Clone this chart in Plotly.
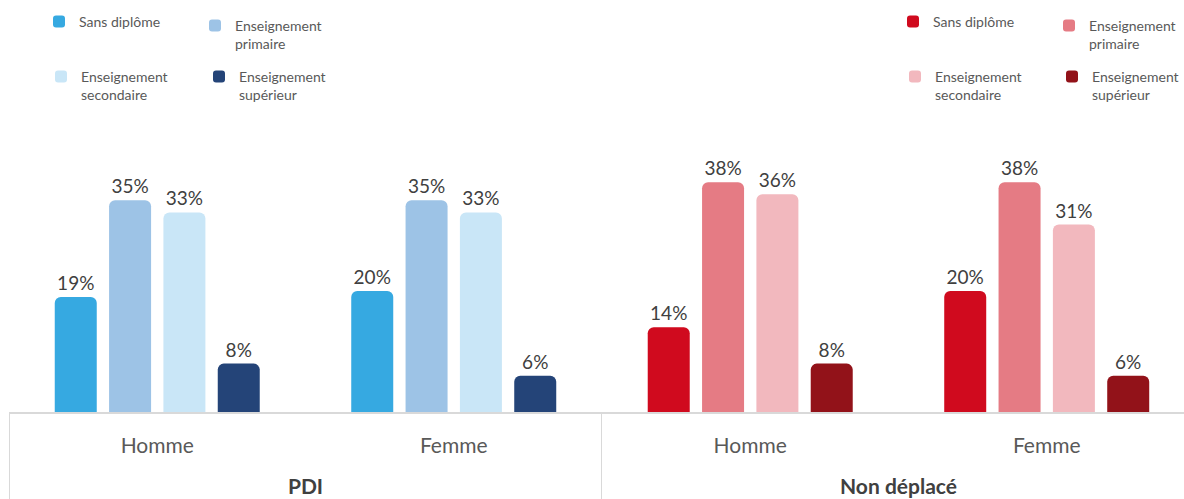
import plotly.graph_objects as go

# data
groups = ["PDI", "Non déplacé"]
sexes = ["Homme", "Femme"]
levels = ["Sans diplôme", "Enseignement<br>primaire",
          "Enseignement<br>secondaire", "Enseignement<br>supérieur"]

pdi_values = {
    "Sans diplôme": [19, 20],
    "Enseignement<br>primaire": [35, 35],
    "Enseignement<br>secondaire": [33, 33],
    "Enseignement<br>supérieur": [8, 6],
}
nd_values = {
    "Sans diplôme": [14, 20],
    "Enseignement<br>primaire": [38, 38],
    "Enseignement<br>secondaire": [36, 31],
    "Enseignement<br>supérieur": [8, 6],
}

pdi_colors = ["#36A9E1", "#9DC3E6", "#C9E6F7", "#244478"]
nd_colors = ["#D00A1E", "#E57B84", "#F2B8BE", "#921219"]

FONT = "Lato"
W, H = 1184, 499

# legend text start (px) and vertical middle of the text block (px)
pdi_leg_pos = [(79, 22), (235, 35), (81, 86), (239, 86)]
nd_leg_pos = [(933, 22), (1089, 35), (935, 86), (1092, 86)]


def group_label(name):
    # blank first line pushes the group name below the sex labels
    return "<br><span style='color:#404040'><b>%s</b></span>" % name


fig = go.Figure()

legend_layouts = {}
n = 0
for grp, values, colors, positions in [
    (group_label(groups[0]), pdi_values, pdi_colors, pdi_leg_pos),
    (group_label(groups[1]), nd_values, nd_colors, nd_leg_pos),
]:
    for i, lvl in enumerate(levels):
        n += 1
        leg = "legend" if n == 1 else f"legend{n}"
        fig.add_trace(go.Bar(
            x=[[grp] * len(sexes), sexes],
            y=values[lvl],
            name=lvl,
            offsetgroup=str(i),
            marker=dict(color=colors[i], line=dict(width=0)),
            texttemplate="%{y}%",
            textposition="outside",
            constraintext="none",
            textfont=dict(size=19, color="#404040", family=FONT),
            cliponaxis=False,
            legend=leg,
            hoverinfo="skip",
        ))
        tx, ty = positions[i]
        legend_layouts[leg] = dict(
            x=(tx - 40) / W, y=1 - ty / H,
            xref="container", yref="container",
            xanchor="left", yanchor="middle",
            valign="top",
            font=dict(size=14, color="#595959", family=FONT),
            bgcolor="rgba(0,0,0,0)",
            itemclick=False, itemdoubleclick=False,
        )

fig.update_layout(
    width=W, height=H,
    margin=dict(l=9, r=0, t=158, b=87, autoexpand=False),
    paper_bgcolor="white", plot_bgcolor="white",
    barmode="group",
    bargap=0.267, bargroupgap=0.227,
    barcornerradius=6,
    showlegend=True,
    font=dict(family=FONT, color="#595959"),
    **legend_layouts,
)

fig.update_xaxes(
    type="multicategory",
    range=[-0.5, 3.463],
    showline=True, linecolor="#D9D9D9", linewidth=2,
    showgrid=False, ticks="",
    ticklabelstandoff=14,
    showdividers=True, dividercolor="#D9D9D9", dividerwidth=1,
    tickfont=dict(size=21, color="#595959", family=FONT),
)
fig.update_yaxes(range=[0, 42], visible=False, showgrid=False, zeroline=False)

fig.write_html("out.html", config={"displayModeBar": False},
               post_script="document.body.style.margin='0';")
